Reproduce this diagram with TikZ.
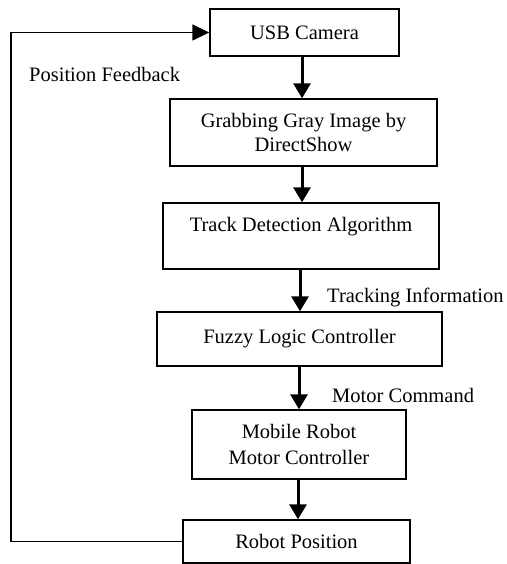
\documentclass[tikz,border=0pt]{standalone}
\usepackage{fontspec}
\setmainfont{Liberation Serif}
\usetikzlibrary{arrows.meta}
\begin{document}
\begin{tikzpicture}[x=1pt,y=-1pt,
  box/.style={draw=black, line width=1.4pt, align=center, inner sep=0pt,
    font=\fontsize{20.5}{25}\selectfont},
  lbl/.style={font=\fontsize{20.5}{25}\selectfont, inner sep=0pt},
  arr/.style={line width=3pt, -{Triangle[length=15pt,width=17pt]}},
  fb/.style={line width=1.5pt, -{Triangle[length=17pt,width=16pt]}}]
\useasboundingbox (0,0) rectangle (506,564);
\node[box, minimum width=189pt, minimum height=47pt] (b1) at (304.5,32.5) {USB Camera};
\node[box, minimum width=267pt, minimum height=67pt] (b2) at (303.5,132.5) {Grabbing Gray Image by\\[-1pt]DirectShow};
\node[box, minimum width=276pt, minimum height=66pt] (b3) at (301,236) {};
\node[lbl] (t3) at (301,227) {Track Detection Algorithm};
\node[box, minimum width=285pt, minimum height=54pt] (b4) at (299.5,339) {Fuzzy Logic Controller};
\node[box, minimum width=214pt, minimum height=69pt] (b5) at (299,444.5) {Mobile Robot\\[1pt]Motor Controller};
\node[box, minimum width=227pt, minimum height=43pt] (b6) at (296.5,541.5) {Robot Position};
\node[lbl, anchor=west] (l1) at (29,74) {Position Feedback};
\node[lbl, anchor=west] (l2) at (327,297) {Tracking Information};
\node[lbl, anchor=west] (l3) at (332,395) {Motor Command};
\draw[arr] (302,0 |- b1.south) -- (302,0 |- b2.north);
\draw[arr] (302,0 |- b2.south) -- (302,0 |- b3.north);
\draw[arr] (300,0 |- b3.south) -- (300,0 |- b4.north);
\draw[arr] (299,0 |- b4.south) -- (299,0 |- b5.north);
\draw[arr] (298,0 |- b5.south) -- (298,0 |- b6.north);
\coordinate (fbc) at (11,32.5);
\draw[fb] (b6.west) -| (fbc) -- (b1.west);
\end{tikzpicture}
\end{document}
